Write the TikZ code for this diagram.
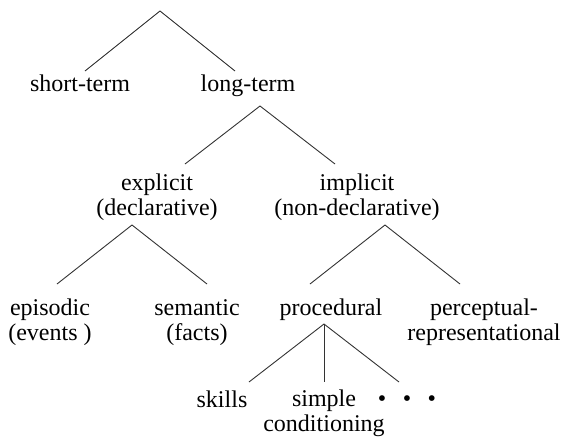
\documentclass[tikz,border=0pt]{standalone}
\usepackage{fontspec}
\setmainfont{Liberation Serif}
\begin{document}
\begin{tikzpicture}[x=1pt,y=-1pt,
  lbl/.style={anchor=base,inner sep=0pt,align=center,font=\fontsize{24}{25}\selectfont},
  edge/.style={line width=0.9pt,draw=black!80}]
\useasboundingbox (0,0) rectangle (565,440);
% labels (multi-line labels are placed by the baseline of their last line)
\node[lbl] (st) at (80,91) {short-term};
\node[lbl] (lt) at (248,91) {long-term};
\node[lbl] (ex) at (157,215) {explicit\\(declarative)};
\node[lbl] (im) at (357,215) {implicit\\(non-declarative)};
\node[lbl] (ep) at (50,340) {episodic\\(events )};
\node[lbl] (se) at (197,340) {semantic\\(facts)};
\node[lbl] (pr) at (331,315) {procedural};
\node[lbl] (pe) at (484,340) {perceptual-\\representational};
\node[lbl] (sk) at (222,407) {skills};
\node[lbl] (si) at (324,431) {simple\\conditioning};
\node[lbl] (dots) at (407,406) {•\hspace{16.5pt}•\hspace{16.5pt}•};
% junction points
\coordinate (r0) at (160,11);
\coordinate (st-in) at (85,71);
\coordinate (lt-in) at (235,71);
\coordinate (lt-out) at (260,106);
\coordinate (ex-in) at (185,164);
\coordinate (im-in) at (335,164);
\coordinate (ex-out) at (132,225);
\coordinate (im-out) at (385,225);
\coordinate (ep-in) at (57,284);
\coordinate (se-in) at (207,284);
\coordinate (pr-in) at (310,284);
\coordinate (pe-in) at (460,284);
\coordinate (pr-out) at (324,324);
\coordinate (sk-in) at (249,382);
\coordinate (si-in) at (324,382);
\coordinate (dots-in) at (399,382);
% connectors
\draw[edge] (st-in) -- (r0) -- (lt-in);
\draw[edge] (ex-in) -- (lt-out) -- (im-in);
\draw[edge] (ep-in) -- (ex-out) -- (se-in);
\draw[edge] (pr-in) -- (im-out) -- (pe-in);
\draw[edge] (sk-in) -- (pr-out) -- (dots-in);
\draw[edge] (pr-out) -- (si-in);
\end{tikzpicture}
\end{document}
